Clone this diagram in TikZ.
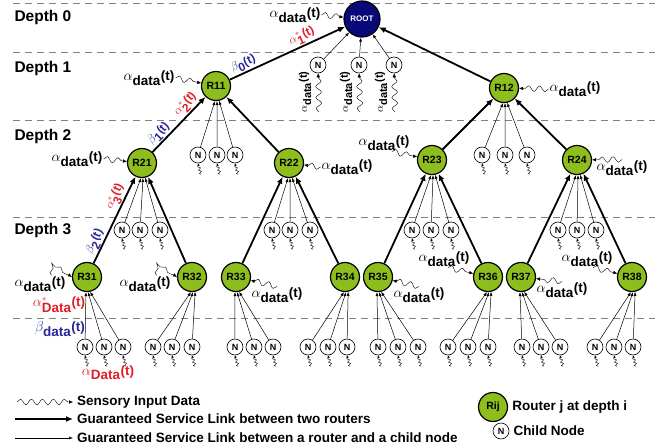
\documentclass[tikz,border=0pt]{standalone}
\usepackage{fontspec}
\setmainfont{Liberation Sans}
\usetikzlibrary{arrows.meta,decorations.pathmorphing}
\definecolor{rgreen}{RGB}{141,190,30}
\definecolor{rootblue}{RGB}{8,8,120}
\definecolor{ared}{RGB}{225,30,40}
\definecolor{bblue}{RGB}{40,40,150}
\newcommand{\adat}{$\alpha_{\textbf{data}}$\textbf{(t)}}
\newcommand{\astr}[1]{$\alpha^{*}_{\textbf{#1}}$\textbf{(t)}}
\newcommand{\bet}[1]{$\beta_{\textbf{#1}}$\textbf{(t)}}

\begin{document}
\begin{tikzpicture}[x=1pt,y=-1pt,
    router/.style={circle,draw,line width=1.2pt,fill=rgreen,minimum size=29pt,inner sep=0pt,font=\bfseries\fontsize{10.5}{10.5}\selectfont},
    cnode/.style={circle,draw,line width=0.6pt,fill=white,minimum size=16pt,inner sep=0pt,font=\bfseries\fontsize{9}{9}\selectfont},
    rlink/.style={-{Latex[length=7pt,width=6pt]},line width=1.8pt},
    clink/.style={-{Latex[length=4pt,width=3pt]},line width=0.5pt},
    sensor/.style={-{Latex[length=4pt,width=3.5pt]},decorate,decoration={snake,amplitude=2.8pt,segment length=11pt,post length=3pt}},
    tinysens/.style={-{Latex[length=2.5pt,width=2.5pt]},line width=0.4pt,decorate,decoration={snake,amplitude=1.3pt,segment length=3.5pt,post length=2pt}},
    lvl/.style={gray,dash pattern=on 7pt off 5pt,line width=0.8pt},
    depth/.style={anchor=west,font=\bfseries\fontsize{15.5}{15.5}\selectfont},
    lbl/.style={font=\fontsize{13.5}{13.5}\selectfont,inner sep=1pt},
    slbl/.style={font=\fontsize{12}{12}\selectfont,inner sep=0.5pt,sloped,above},
    legend/.style={anchor=west,font=\bfseries\fontsize{13.5}{13.5}\selectfont,inner sep=1pt}]
  \useasboundingbox (0,0) rectangle (662,447);
  % depth levels
  \foreach \yy in {3,52,120,217,318}
    \draw[lvl] (13,\yy) -- (655,\yy);
  \node[depth] (d0) at (11,17) {Depth 0};
  \node[depth] (d1) at (11,68) {Depth 1};
  \node[depth] (d2) at (11,136) {Depth 2};
  \node[depth] (d3) at (11,230) {Depth 3};

  % routers
  \node[router,fill=rootblue,text=white,minimum size=36pt,font=\bfseries\fontsize{8}{8}\selectfont] (ROOT) at (362,19) {ROOT};
  \foreach \nm/\xx/\yy in {R11/216/86, R12/504/88, R21/142/163, R22/289/163, R23/432/160, R24/577/160,
      R31/87/277, R32/192/277, R33/236/277, R34/345/277, R35/378/277, R36/488/277, R37/521/277, R38/632/277}
    \node[router] (\nm) at (\xx,\yy) {\nm};

  % links between routers
  \draw[rlink] (R11) -- node[slbl,pos=0.66,text=ared] (a1s) {\astr{1}}
    node[slbl,pos=0.15,text=bblue] (b0) {\bet{0}} (ROOT);
  \draw[rlink] (R12) -- (ROOT);
  \draw[rlink] (R21) -- node[slbl,pos=0.75,text=ared] (a2s) {\astr{2}}
    node[slbl,pos=0.23,text=bblue] (b1) {\bet{1}} (R11);
  \draw[rlink] (R22) -- (R11);
  \draw[rlink] (R23) -- (R12);
  \draw[rlink] (R24) -- (R12);
  \draw[rlink] (R31) -- node[slbl,pos=0.72,text=ared] (a3s) {\astr{3}}
    node[slbl,pos=0.21,text=bblue] (b2) {\bet{2}} (R21);
  \draw[rlink] (R32) -- (R21);
  \draw[rlink] (R33) -- (R22);
  \draw[rlink] (R34) -- (R22);
  \draw[rlink] (R35) -- (R23);
  \draw[rlink] (R36) -- (R23);
  \draw[rlink] (R37) -- (R24);
  \draw[rlink] (R38) -- (R24);

  % child nodes of the root
  \foreach \xx/\k in {318/1,359/2,394/3}{
    \node[cnode] (N0\k) at (\xx,65) {N};
    \draw[clink] (N0\k) -- (ROOT);
    \coordinate (s0\k) at (\xx+1,112);
    \draw[sensor] (s0\k) -- (N0\k);
    \node[lbl,rotate=90,font=\fontsize{11}{11}\selectfont] (a0\k) at (\xx-13,92) {\adat};
  }

  % child nodes of the routers
  \foreach \r/\yy/\xa/\xb/\xc in {R11/155/198/217/235, R12/155/482/505/527,
      R21/230/122/140/160, R22/230/272/290/310, R23/230/412/431/451, R24/230/558/577/596,
      R31/347/85/104/123, R32/347/153/172/192, R33/347/235/254/273, R34/347/308/328/347,
      R35/347/378/398/418, R36/347/448/468/488, R37/347/522/541/560, R38/347/595/614/633}{
    \foreach \xx [count=\k] in {\xa,\xb,\xc}{
      \pgfmathtruncatemacro\ang{258+8*\k}
      \node[cnode] (\r-\k) at (\xx,\yy) {N};
      \draw[clink] (\r-\k) -- (\r.\ang);
      \draw[tinysens] ([shift={(3,11)}]\r-\k.south) -- (\r-\k.south);
    }
  }

  % sensory input of the routers
  \node[lbl] (aROOT) at (295,15) {\adat};
  \draw[sensor] (aROOT.east) -- (ROOT);
  \node[lbl] (a11) at (149,78) {\adat};
  \draw[sensor] (a11.east) -- (R11);
  \node[lbl] (a12) at (575,89) {\adat};
  \draw[sensor] (a12.west) -- (R12);
  \node[lbl] (a21) at (77,159) {\adat};
  \draw[sensor] (a21.east) -- (R21);
  \node[lbl] (a22) at (347,167) {\adat};
  \draw[sensor] (a22.west) -- (R22);
  \node[lbl] (a23) at (384,143) {\adat};
  \draw[sensor] ([xshift=8]a23.south) -- (R23);
  \node[lbl] (a24) at (622,168) {\adat};
  \draw[sensor] (a24.north) -- (R24);
  \node[lbl] (a31) at (40,284) {\adat};
  \draw[sensor,decoration={amplitude=1.5pt,segment length=9pt}] ([xshift=-15]a31.north east) .. controls +(0,-18) and +(-14,-9) .. (R31.west);
  \node[lbl] (a32) at (145,284) {\adat};
  \draw[sensor,decoration={amplitude=1.5pt,segment length=9pt}] ([xshift=-15]a32.north east) .. controls +(0,-18) and +(-14,-9) .. (R32.west);
  \node[lbl] (a33) at (277,295) {\adat};
  \draw[sensor] (a33.north) -- (R33);
  \node[lbl] (a35) at (419,295) {\adat};
  \draw[sensor] (a35.north) -- (R35);
  \node[lbl] (a36) at (444,259) {\adat};
  \draw[sensor] ([xshift=4]a36.south) -- (R36);
  \node[lbl] (a37) at (562,290) {\adat};
  \draw[sensor] (a37.north) -- (R37);
  \node[lbl] (a38) at (587,259) {\adat};
  \draw[sensor] ([xshift=6]a38.south) -- (R38);

  % rates at the bottom of R31
  \node[lbl,text=ared] (aDs) at (59,305) {\astr{Data}};
  \node[lbl,text=bblue] (bD) at (60,329) {$\beta_{\textbf{data}}$\textbf{(t)}};
  \node[lbl,text=ared] (aD) at (108,373) {$\alpha_{\textbf{Data}}$\textbf{(t)}};

  % legend
  \node[legend] (lt1) at (76,402) {Sensory Input Data};
  \node[legend] (lt2) at (76,419) {Guaranteed Service Link between two routers};
  \node[legend] (lt3) at (76,438) {Guaranteed Service Link between a router and a child node};
  \coordinate (l1) at (17,402);
  \coordinate (l2) at (15,419);
  \coordinate (l3) at (15,438);
  \draw[sensor] (l1) -- ([xshift=-3]lt1.west);
  \draw[rlink] (l2) -- ([xshift=-3]lt2.west);
  \draw[clink] (l3) -- ([xshift=-3]lt3.west);
  \node[router] (lR) at (493,407) {Rij};
  \node[legend,xshift=3] (lRt) at (lR.east) {Router j at depth i};
  \node[cnode] (lN) at (501,431) {N};
  \node[legend,xshift=3] (lNt) at (lN.east) {Child Node};
\end{tikzpicture}
\end{document}
